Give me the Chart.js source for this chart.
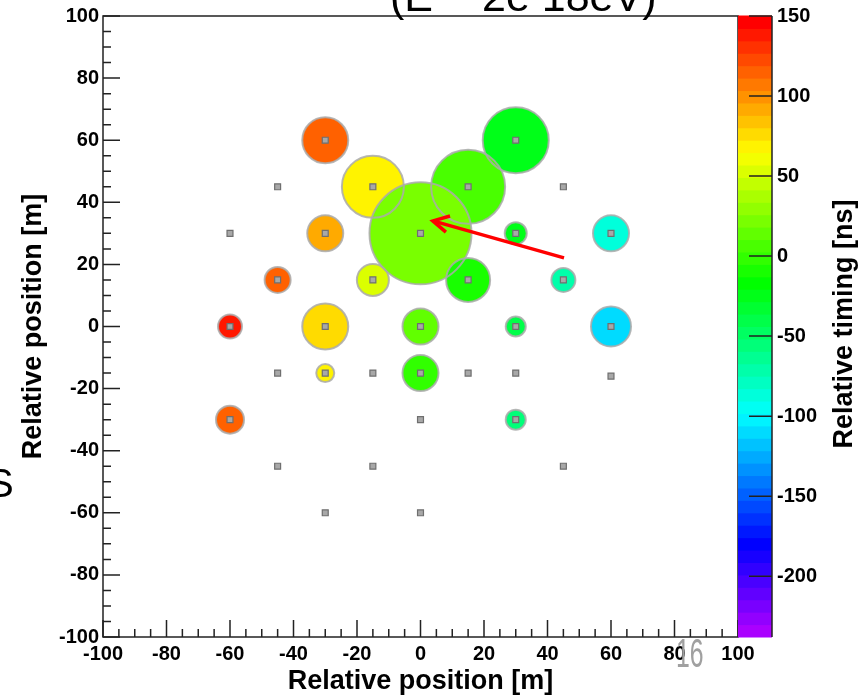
<!DOCTYPE html>
<html lang="en">
<head>
<meta charset="UTF-8">
<title>Station timing map</title>
<script src="https://cdn.jsdelivr.net/npm/chart.js@4"></script>
<style>
  html, body { margin: 0; padding: 0; background: #fff; }
  #wrap { position: relative; width: 861px; height: 698px; }
</style>
</head>
<body>
<div id="wrap"><canvas id="chart"></canvas></div>
<script>
// all detector stations [m]
const stationX = [-30, 30, -45, -15, 15, 45, -60, -30, 0, 30, 60, -45, -15, 15, 45, -60, -30, 0, 30, 60,
                  -45, -30, -15, 0, 15, 30, 60, -60, 0, 30, -45, -15, 45, -30, 0];
const stationY = [60, 60, 45, 45, 45, 45, 30, 30, 30, 30, 30, 15, 15, 15, 15, 0, 0, 0, 0, 0,
                  -15, -15, -15, -15, -15, -15, -16, -30, -30, -30, -45, -45, -45, -60, -60];

// stations with a signal
const hitX = [-30, 30, -15, 15, 0, -30, 30, 60, -45, -15, 15, 45, -60, -30, 0, 30, 60, -30, 0, -60, 30];
const hitY = [60, 60, 45, 45, 30, 30, 30, 30, 15, 15, 15, 15, 0, 0, 0, 0, 0, -15, -15, -30, -30];
const hitSize = [23, 33, 31, 37, 51, 18, 11, 18, 13, 16, 22, 12, 12, 23, 18, 10, 20, 9, 18, 14, 10];
const hitTiming = [115, -25, 68, 6, 22, 92, -25, -86, 115, 53, -9, -71, 138, 76, 14, -40, -110, 68, -1, 115, -55];

// reconstructed shower axis (arrow)
const arrowX = [45.2, 3.9];
const arrowY = [22.1, 34.0];
const headX = [9.3, 3.9, 8.0];
const headY = [35.6, 34.0, 30.4];

const posTicks = [-100, -80, -60, -40, -20, 0, 20, 40, 60, 80, 100];
const timingTicks = [150, 100, 50, 0, -50, -100, -150, -200];
const timingMin = -238;
const timingMax = 150;
const nBands = 50;

const FONT = "'Liberation Sans', Arial, Helvetica, sans-serif";

function bandColor(i) {
  const hue = 280 * (1 - i / (nBands - 1));
  return `hsl(${hue}, 100%, 50%)`;
}
function timingColor(v) {
  let i = Math.floor((v - timingMin) / (timingMax - timingMin) * nBands);
  i = Math.max(0, Math.min(nBands - 1, i));
  return bandColor(i);
}

const stations = stationX.map((x, i) => ({ x: x, y: stationY[i] }));
const hits = hitX.map((x, i) => ({ x: x, y: hitY[i], r: hitSize[i] }));
const hitColors = hitTiming.map(timingColor);

// fixed box sizes, and no extra room for the end labels
function fixBox(size) {
  return s => {
    if (s.isHorizontal()) s.height = size; else s.width = size;
    s.paddingTop = 0; s.paddingBottom = 0; s.paddingLeft = 0; s.paddingRight = 0;
  };
}

const rootFrame = {
  id: 'rootFrame',
  afterDatasetsDraw(chart) {
    const { ctx, chartArea: a, scales: { x, y } } = chart;
    ctx.save();
    ctx.strokeStyle = '#222';
    ctx.lineWidth = 1.5;
    ctx.strokeRect(a.left, a.top, a.right - a.left, a.bottom - a.top);
    ctx.beginPath();
    for (let v = -100; v <= 100; v += 5) {
      const len = v % 20 === 0 ? 17 : 8;
      const px = x.getPixelForValue(v);
      ctx.moveTo(px, a.bottom);
      ctx.lineTo(px, a.bottom - len);
      const py = y.getPixelForValue(v);
      ctx.moveTo(a.left, py);
      ctx.lineTo(a.left + len, py);
    }
    ctx.stroke();
    ctx.restore();
  },
  afterDraw(chart) {
    const { ctx, chartArea: a, scales: { c } } = chart;
    ctx.save();
    // colour palette bar
    const x0 = a.right, x1 = a.right + 34;
    const step = (timingMax - timingMin) / nBands;
    for (let i = 0; i < nBands; i++) {
      const yb = c.getPixelForValue(timingMin + i * step);
      const yt = c.getPixelForValue(timingMin + (i + 1) * step);
      ctx.fillStyle = bandColor(i);
      ctx.fillRect(x0, yt - 0.5, x1 - x0, yb - yt + 1);
    }
    ctx.strokeStyle = '#222';
    ctx.lineWidth = 1.5;
    ctx.beginPath();
    ctx.moveTo(x1, c.top);
    ctx.lineTo(x1, c.bottom);
    timingTicks.forEach(v => {
      const py = c.getPixelForValue(v);
      ctx.moveTo(x1, py);
      ctx.lineTo(x1 - 23, py);
    });
    ctx.stroke();

    // palette axis title, read bottom to top
    ctx.fillStyle = '#000';
    ctx.font = `bold 27px ${FONT}`;
    ctx.textAlign = 'center';
    ctx.textBaseline = 'middle';
    ctx.translate(845, 324);
    ctx.rotate(-Math.PI / 2);
    ctx.fillText('Relative timing [ns]', 0, 0);
    ctx.restore();

    // leftovers of the slide around the plot (cut by the top edge)
    ctx.save();
    ctx.fillStyle = '#000';
    ctx.font = `43px ${FONT}`;
    ctx.textAlign = 'left';
    ctx.textBaseline = 'alphabetic';
    ctx.fillText('(E ~ 2e 18eV)', 390, 11);
    ctx.font = `40px ${FONT}`;
    ctx.fillText('S', -13, 497);
    ctx.fillStyle = '#a0a0a0';
    ctx.font = `40px ${FONT}`;
    ctx.translate(676, 667);
    ctx.scale(0.62, 1);
    ctx.fillText('16', 0, 0);
    ctx.restore();
  }
};

const tickFont = { family: FONT, size: 20, weight: 'bold' };
const titleFont = { family: FONT, size: 27, weight: 'bold' };

new Chart(document.getElementById('chart'), {
  type: 'bubble',
  data: {
    datasets: [
      {
        type: 'line', data: arrowX.map((x, i) => ({ x: x, y: arrowY[i] })),
        borderColor: '#ff0000', borderWidth: 3.5, pointRadius: 0, fill: false, order: 0
      },
      {
        type: 'line', data: headX.map((x, i) => ({ x: x, y: headY[i] })),
        borderColor: '#ff0000', borderWidth: 3.5, pointRadius: 0, fill: false, order: 0
      },
      {
        type: 'scatter', data: stations, pointStyle: 'rect', pointRadius: 4.2,
        backgroundColor: '#a8a8a8', borderColor: '#6f6f6f', borderWidth: 1.2, order: 1
      },
      {
        data: hits, backgroundColor: 'rgba(0,0,0,0)',
        borderColor: 'rgba(170,170,170,0.85)', borderWidth: 2, order: 2
      },
      {
        data: hits, backgroundColor: hitColors, borderWidth: 0, order: 3
      }
    ]
  },
  options: {
    responsive: true,
    maintainAspectRatio: false,
    animation: false,
    events: [],
    layout: { autoPadding: false, padding: { top: 16, left: 0, right: 0, bottom: 0 } },
    plugins: { legend: { display: false }, tooltip: { enabled: false } },
    scales: {
      x: {
        type: 'linear', min: -100, max: 100,
        afterBuildTicks: s => { s.ticks = posTicks.map(v => ({ value: v })); },
        afterFit: fixBox(61),
        grid: { display: false, drawTicks: false },
        border: { display: false },
        ticks: { font: tickFont, color: '#000', padding: 5 },
        title: { display: true, text: 'Relative position [m]', font: titleFont, color: '#000', padding: { top: 0, bottom: 0 } }
      },
      y: {
        type: 'linear', min: -100, max: 100,
        afterBuildTicks: s => { s.ticks = posTicks.map(v => ({ value: v })); },
        afterFit: fixBox(103),
        grid: { display: false, drawTicks: false },
        border: { display: false },
        ticks: { font: tickFont, color: '#000', padding: 4 },
        title: { display: true, text: 'Relative position [m]', font: titleFont, color: '#000', padding: { top: 17, bottom: 0 } }
      },
      c: {
        type: 'linear', position: 'right', min: timingMin, max: timingMax,
        afterBuildTicks: s => { s.ticks = timingTicks.map(v => ({ value: v })); },
        afterFit: fixBox(123),
        grid: { display: true, drawOnChartArea: false, drawTicks: true, tickLength: 35, color: 'rgba(0,0,0,0)' },
        border: { display: false },
        ticks: { font: tickFont, color: '#000', padding: 4 }
      }
    }
  },
  plugins: [rootFrame]
});
</script>
</body>
</html>
